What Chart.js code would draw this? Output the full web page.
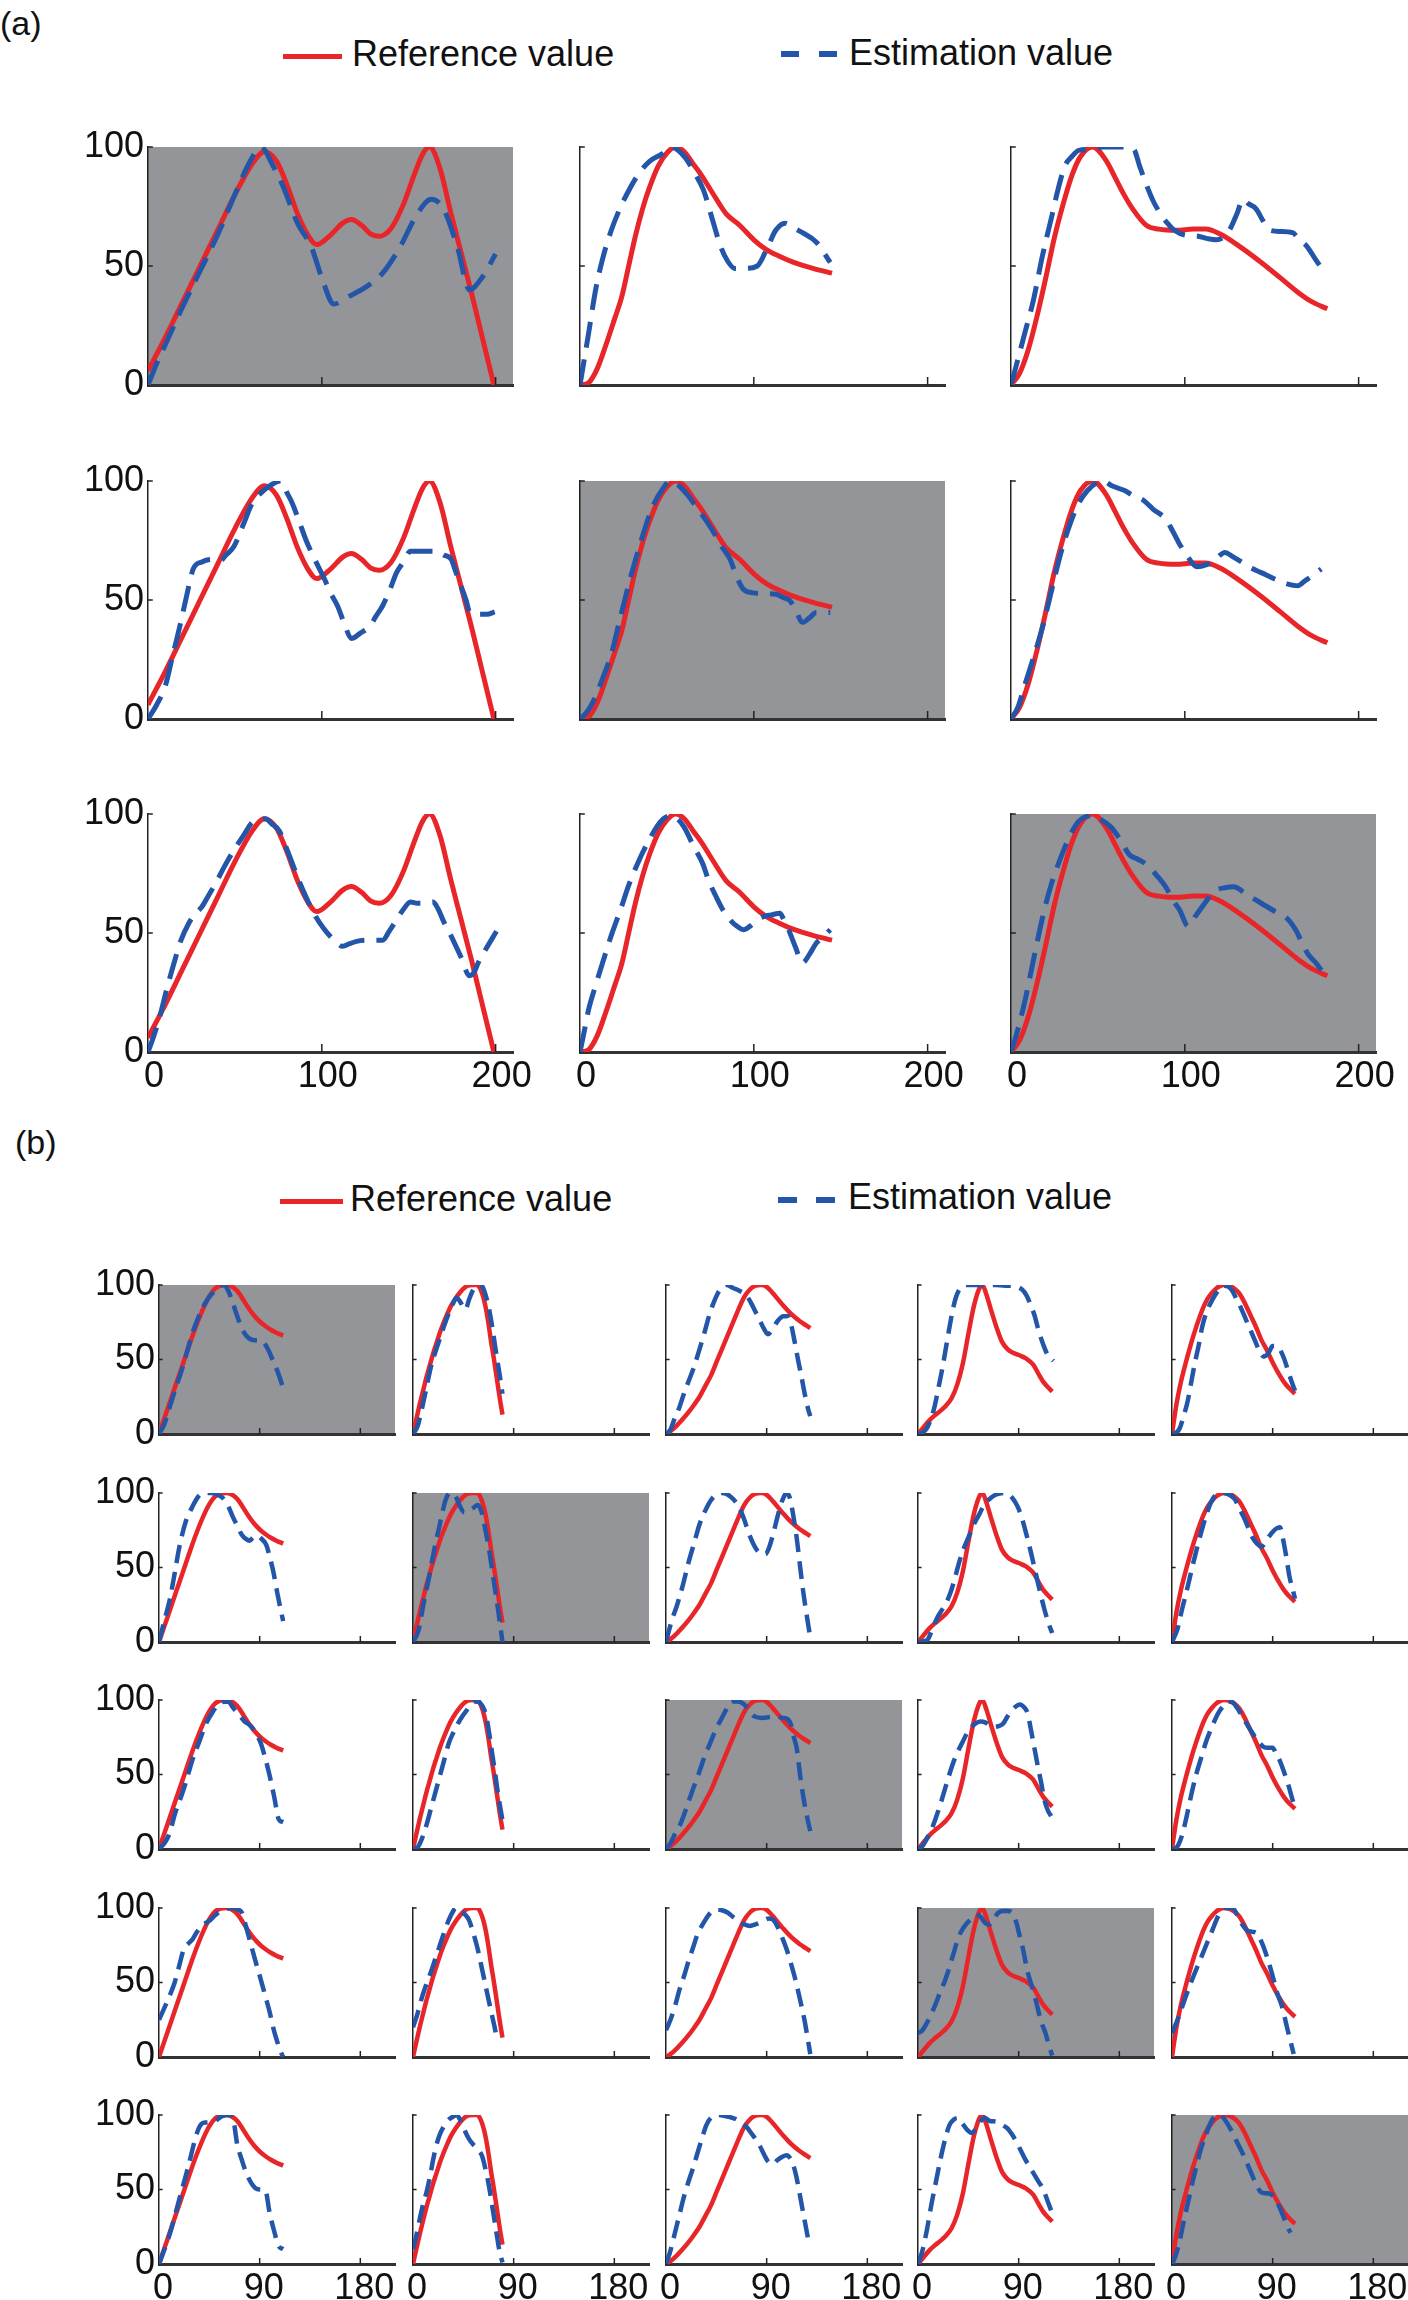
<!DOCTYPE html>
<html><head><meta charset="utf-8">
<script src="https://cdn.jsdelivr.net/npm/chart.js@4.4.0/dist/chart.umd.min.js"></script>
<style>
html,body{margin:0;padding:0;background:#fff;width:1408px;height:2300px;overflow:hidden;position:relative;font-family:"Liberation Sans",Arial,sans-serif;}
.lbl{position:absolute;font-size:34px;line-height:34px;color:#111;}
.leg{position:absolute;font-size:36px;line-height:36px;color:#111;white-space:nowrap;}
.sw{position:absolute;}
canvas{position:absolute;}
</style></head><body>
<div class="lbl" style="left:0px;top:6px;">(a)</div>
<div class="sw" style="left:283px;top:54px;width:59px;height:5px;background:#E8262A;"></div>
<div class="leg" style="left:352px;top:36px;">Reference value</div>
<div class="sw" style="left:781px;top:51px;width:18px;height:6px;background:#2356A8;"></div>
<div class="sw" style="left:819px;top:51px;width:18px;height:6px;background:#2356A8;"></div>
<div class="leg" style="left:849px;top:35px;">Estimation value</div>
<div class="lbl" style="left:15px;top:1125px;">(b)</div>
<div class="sw" style="left:280px;top:1199px;width:63px;height:5px;background:#E8262A;"></div>
<div class="leg" style="left:350px;top:1181px;">Reference value</div>
<div class="sw" style="left:778px;top:1197px;width:19px;height:6px;background:#2356A8;"></div>
<div class="sw" style="left:816px;top:1197px;width:19px;height:6px;background:#2356A8;"></div>
<div class="leg" style="left:848px;top:1179px;">Estimation value</div>
<script>
// ---------- tick labels ----------
const aXTicks = [0, 100, 200];
const bXTicks = [0, 90, 180];
const yTicks = [0, 50, 100];

// ---------- (a) reference curves (one per column) ----------
const refA1 = [[0,6],[10,20],[20,35],[30,50],[40,65],[50,80],[60,93],[67,98],[74,94],[80,84],[86,72],[92,63],[97,59],[105,63],[112,68],[117,69.5],[123,67],[128,63.5],[133,62.5],[140,66],[147,76],[153,88],[158,97],[162,100],[168,91],[174,73],[180,56],[186,39],[192,21],[199,0]];
const refA2 = [[0,0],[5,1],[10,7],[15,17],[20,28],[24,37],[28,50],[32,63],[36,74],[40,83],[45,92],[50,97.5],[55,100],[60,98],[65,93],[70,88],[76,81],[84,72],[92,67],[100,61],[107,57],[115,54],[123,51.5],[134,49],[145,47]];
const refA3 = [[0,0],[5,5],[10,15],[15,29],[20,45],[25,62],[30,76],[35,88],[40,96],[47,100],[55,94],[60,87],[65,80],[70,74],[78,67],[85,65.5],[95,65],[105,65.5],[112,65.5],[120,63.5],[130,59],[144,51.5],[155,45],[165,39],[173,35],[182,32]];

// ---------- (a) estimation curves (row, column) ----------
const estA11 = [[0,0],[5,9],[10,17],[20,33],[30,48],[40,63],[50,80],[58,93],[65,100],[72,92],[78,83],[86,68],[94,58],[100,45],[107,34],[115,37],[125,41],[135,47],[145,58],[155,72],[163,78],[170,74],[178,58],[185,40],[192,45],[200,55]];
const estA12 = [[0,0],[5,22],[9,40],[13,53],[18,65],[23.5,75],[29,83],[34,89],[40,94],[47,97],[52,100],[60,96],[66,89],[71,82],[76,70],[81,58],[85,52],[89,49],[95,49],[102,50],[108,58],[112.6,65],[118,68],[123,66],[128,64],[136,60],[144,51.5]];
const estA13 = [[0,0],[2.6,7],[8,22],[13,36],[18,54],[23.5,71],[27,82],[31,92],[35,96],[39,98.6],[47,99],[53,100],[60,100],[66,100],[70.7,99],[74,92],[78.5,83],[82,77],[86,72],[90,68],[94,65],[100,63],[107,62.6],[113,61.5],[118,61],[122,62],[125.6,65],[130,72],[133.5,78],[137,76],[141,74],[145,69],[149,65],[155,64.5],[162,64],[166,61],[170,58.5],[175,53],[180.6,47]];
const estA21 = [[0,0],[5,6],[10,14],[14,26],[18,38],[22,51],[26,63],[31,66],[36.5,67],[41.6,66.5],[45,69],[49.5,72.6],[55,82],[60,90.7],[65,95],[70,98],[76.5,100],[80,95],[83,90.7],[87,83],[91,75],[96,67],[101.6,58.7],[105,53],[109,47.6],[113,40],[117,33.8],[122,36],[127.6,39],[131,43],[135,47.6],[139,54],[143,61.5],[147,66],[151,70.5],[158,70.5],[166.7,70.5],[170,69],[174.5,67],[177,62],[180,56],[183,50],[185,45],[190,44],[195,44],[199.5,45]];
const estA22 = [[0,0],[4,3],[8,8],[13,17],[18.3,28],[23,42],[28.8,58.7],[34,72],[39,83.7],[43,91],[47,96],[52,100],[57,98],[62,94],[67,89],[72,84],[76,79.5],[81,73],[86.4,67],[90,60],[94,54.5],[99.5,53],[106,52.7],[112.6,52.4],[117,51],[120.4,50],[124,46],[128,40.6],[132,42.5],[136,44.7],[144,44.7]];
const estA23 = [[0,0],[4,5],[7.8,14],[13,26],[18.3,39],[23,53],[28.8,70],[34,82],[39,90.7],[44,96],[50,99.5],[53,100],[58,98],[65.4,96],[70,94],[76,92],[82,88],[89,84],[93,79],[96.6,74],[101,69],[107,64],[111,64.5],[115,65.6],[119,68],[123,70],[128,68],[133.5,65.6],[138,63.5],[144,61.5],[152,58.7],[158,57],[165,56],[169,58],[173,60],[178.5,63]];
const estA31 = [[0,0],[3,6],[6.8,15],[11,27],[15.6,39],[19,47],[23.4,54],[27,58],[31,61],[35,66],[39,71],[44,78],[49.5,85],[55,91],[60,96.5],[64,97.5],[67.7,98],[71,96],[75.5,93],[80,85],[86,73.6],[91,65],[96.4,57],[101,52],[107,47],[112,44.4],[116,45.5],[120,46.5],[128,47],[135,47],[139,51],[143,55.5],[147,60],[151,63],[155,62.5],[159,62.5],[164,63],[167,60],[170,55],[174.5,48.6],[180,40],[185,32],[188,34],[190,37.5],[195,44],[200.5,50.7]];
const estA32 = [[0,0],[2,7],[5,18],[9,28],[13,37.5],[18,49],[23.4,60],[28,70],[34,80.6],[39,88],[44.5,95],[48,98],[52,99.3],[56,98],[60,94.4],[65,87],[70.7,79],[74,72],[78.5,65],[82,60],[86.4,55.5],[90,53],[94,51.4],[98,53],[102,55.5],[106,57],[110,57.6],[115,58.3],[117,56],[120,51.4],[124,44],[128,37.5],[132,41],[136,45.8],[140,48.5],[144,51.4]];
const estA33 = [[0,0],[3,7],[7.8,20.8],[13,39],[18.3,57],[23,70],[28.8,82],[34,91],[39,97],[47,99.3],[52,97.5],[57.6,94.4],[63,89],[68,83],[73,81],[78.5,78.5],[84,74],[89,69.4],[93,64],[97,59.7],[102,52.8],[106,57],[110,61],[114,65],[118,68],[123,69],[128,69.4],[136,66],[144,62.5],[152,59],[159.7,55.5],[164,51],[167.5,45.8],[171,41],[175.4,37.5],[179,34],[182,32]];

// ---------- (b) reference curves (one per column) ----------
const refB1 = [[0,0],[5,11],[10,22],[15,33],[20,44],[25,55],[30,66],[35,76],[40,85],[45,92.5],[50,97.5],[55,99.7],[60,100],[65,99],[70,96],[75,90.5],[80,84.5],[85,79.5],[90,75.5],[95,72.5],[100,70],[105,68],[111,66]];
const refB2 = [[0,0],[3,10],[6,20],[9,29],[12,38],[15,46],[18,54],[21,61],[24,68],[27,74],[30,79.5],[34,86],[38,91],[42,95],[46,98.2],[50,99.7],[54,100],[57,100],[59,99],[61.5,95],[63.5,90],[65.5,83],[67.5,74],[70,61],[72,52],[74,42],[76,32],[78,22],[80,13]];
const refB3 = [[0,0],[5,2.5],[10,6],[15,10],[20,14.5],[25,19.5],[30,25],[35,32],[40,39],[45,48],[50,57],[55,66],[60,75],[65,84],[70,92],[75,97],[80,99.5],[85,100],[90,98.8],[95,95],[100,90.5],[105,86],[110,82],[115,78.5],[120,75.5],[125,73],[129,71]];
const refB4 = [[0,0],[5,4.5],[10,9],[15,12.5],[20,15.5],[25,19],[30,24],[35,33],[40,47],[45,67],[50,86],[55,98],[57.5,100],[61,94],[65,84],[70,72],[75,62],[80,57],[85,54.5],[90,53],[97,50.5],[103,46.5],[108,40],[112,35],[116,31.5],[120,28.5]];
const refB5 = [[0,0],[4,20],[8,35],[12,47],[16,58],[20,68],[24,77],[28,85],[32,91],[36,95],[40,98],[46,100],[52,99.3],[56,97.5],[60,94.5],[65,88],[70,80],[75,72],[80,63],[85,56],[90,48],[95,41],[100,35],[105,30.5],[110,27]];

// ---------- (b) estimation curves (row, column) ----------
const estB11 = [[0,0],[5,7],[10,19],[15,31],[20,42],[25,55],[30,68],[35,78],[40,86],[45,92],[50,96],[55,99.5],[58,100],[62,96],[66,88],[70,79],[74,71],[78,66],[82,63.5],[86,63],[90,63],[94,61],[98,56],[102,49],[106,42],[111,31]];
const estB12 = [[0,0],[4,5],[8,17],[12,31],[16,45],[20,55],[24,64],[28,73],[32,81],[36,88],[39,91.5],[42,89],[45,85],[47,83.6],[50,90],[54,97],[58,100],[62,99],[65,93],[68,84],[71,71],[74,56],[77,42],[80,27]];
const estB13 = [[0,0],[4,3],[7,9],[12,18],[16,27],[20,35],[25,45],[30,57],[34,67],[38,78],[42,87],[46,94],[50,98.5],[54,100],[60,98],[66,96],[72,93],[76,88],[80,82],[84,76],[88,70],[91,67],[95,70],[100,76],[105,79],[109,79],[112,73],[115,62],[118,50],[121,39],[124,27],[127,17],[129,12]];
const estB14 = [[0,0],[4,1],[8,4],[12,11],[15,19],[18,30],[22,45],[25,58],[28,71],[31,83],[34,92],[38,98],[44,100],[50,100],[60,100],[70,100],[80,99.5],[88,99],[93,97],[97,93],[101,86],[104,80],[108,69],[112,60],[116,53],[121,49]];
const estB15 = [[0,0],[4,1],[7,4],[10,11],[14,22],[17,34],[20,46],[24,60],[27,72],[31,82],[36,90],[41,96],[46,99.5],[50,99],[54,96],[58,90],[62,84],[66,77],[70,70],[74,63],[78,56],[82,52],[86,54],[90,59],[94,59],[97,56],[100,51],[104,42],[107,35],[110,29]];
const estB21 = [[0,0],[5,15],[9.5,28],[14,46],[18,63],[24,81],[30,91],[35,97.5],[40,100],[46,100],[52,99],[58,96],[62,91],[66,84],[70,78],[74,72],[78,69],[81,68],[84,70],[87,71.5],[92,69],[96,65],[99,57],[102,48],[106,32],[111,14]];
const estB22 = [[0,0],[5,8],[9.5,26],[14,42],[18.5,60],[24,79],[29,95],[33,100],[38,98],[42,91],[46,87],[50,88],[54,90],[58,92],[61,88],[64,78],[68,62],[72,42],[76,22],[80,0]];
const estB23 = [[0,0],[5,14],[10,25],[15,38],[20,53],[25,66],[30,79],[35,88],[40,95],[45,99],[50,100],[55,99],[60,96],[65,91],[70,82],[74,73],[78,66],[82,61],[86,59],[89,59],[92,63],[96,73],[100,85],[104,95],[108,100],[111,96],[114,84],[117,69],[120,50],[123,32],[126,17],[129,3]];
const estB24 = [[0,0],[5,0.5],[9,2],[13,9],[17,16],[21,21],[25,26],[29,33],[33,43],[37,54],[41,63],[45,70],[50,79],[55,86],[59,92],[64,96],[70,99],[78,100],[84,97],[89,91],[93,83],[97,72],[101,60],[105,47],[109,34],[113,22],[117,12],[120,6]];
const estB25 = [[0,0],[5,9],[9,22],[14,37],[18,50],[23,65],[27,76],[31,86],[35,94],[39,98.5],[46,100],[52,98.5],[56,96],[60,90],[64,84],[68,77],[72,70],[76,66],[80,64],[83,66],[86,70],[89,73],[93,76],[96.5,77],[99,70],[102,58],[105,44],[108,35],[110,29]];
const estB31 = [[0,0],[5,4],[9.7,11],[14,23],[17.8,31],[22,40],[26,50],[30,60],[36,72],[42,84],[48,92],[54,97.8],[62,99],[66,95],[70.6,91],[76,86],[82.7,82],[87,77],[91,71],[95,61],[99,49],[103,35],[107,20],[111,18]];
const estB32 = [[0,0],[4,1],[8,7],[12,16],[16,27],[20,38],[24,49],[28,60],[32,71],[36,78],[40,84],[44,89],[48,93],[52,97],[56,99],[60,98],[64,93],[67,83],[70,68],[73,53],[76,37],[78,28],[81,15]];
const estB33 = [[0,0],[4,4],[8,10],[13,17],[18,27],[24,40],[29,50],[34,61],[40,72],[45,81],[50,88],[55,95],[59,99],[64,99],[70,97],[75,92],[79,89],[86,88],[92,88.5],[98,89],[104,88],[109,87],[112,83],[114,76],[117,67],[120,49],[123,34],[126,22],[129,12]];
const estB34 = [[0,0],[4,2],[8,7],[12,13],[16,21],[20,30],[24,40],[28,50],[32,59],[36,66],[40,72],[44,78],[48,82],[52,84.5],[56,85.5],[60,85],[64,83],[68,82],[72,82.5],[76,84],[80,89],[84,93],[88,96],[91,97],[95,95],[98,91],[101,80],[104,68],[107,56],[110,45],[113,33],[116,26],[119,22]];
const estB35 = [[0,0],[4,1],[7,5],[10,12],[14,25],[18,39],[22,51],[26,61],[30,71],[34,79],[38,86],[42,92],[46,96],[50,99],[54,98.5],[58,95],[62,90],[66,85],[70,80],[74,75.5],[78,71.5],[82,68.5],[86,68],[90,68],[93,64],[96,60],[100,52],[104,43],[107,35],[110,27]];
const estB41 = [[0,25],[3,30],[6,35],[10,42],[14,50],[18,61],[22,72],[26,76],[30,79],[34,84],[38,87.5],[42,90],[46,92],[50,95],[54,97.5],[60,99.5],[66,100],[70,99],[74,97],[78,87],[82,76],[86,65],[91,52],[95,41],[99,30],[102,20],[105,12],[108,5],[111,0]];
const estB42 = [[0,20],[4,29],[8,40],[12,49],[16,57],[20,66],[24,75],[28,84],[32,92],[36,98],[38,100],[42,98],[46,96],[50,92],[54,83],[58,72],[62,58],[66,44],[70,30],[73,20],[75,12]];
const estB43 = [[0,18],[4,25],[8,34],[12,45],[16,54],[20,64],[24,73],[28,82],[32,88],[36,93],[40,97],[45,99],[50,98.5],[55,97],[60,94],[65,91],[70,89],[75,88],[80,89],[86,91],[92,93],[96,92],[100,87],[104,80],[108,72],[112,62],[116,51],[120,38],[124,24],[129,2]];
const estB44 = [[0,16],[4,18],[8,23],[12,29],[16,36],[20,44],[24,51],[28,60],[32,70],[36,80],[40,86],[44,90],[48,93],[52,95.5],[56,94],[60,90],[64,89],[68,93],[72,97],[76,98],[80,98],[85,96],[88,90],[91,81],[94,72],[98,57],[102,47],[106,36],[110,24],[114,16],[117,8],[120,1]];
const estB45 = [[0,16],[6,27],[12,40],[18,52],[24,63],[30,74],[36,85],[42,95.5],[48,100],[54,100],[61,91],[67,85],[72,84],[76,83],[80.5,76.4],[85,67],[89.4,56],[94,43],[98.3,34],[102.8,20],[105.8,11],[108.8,2]];
const estB51 = [[0,0],[5,10],[10,21],[18,43],[26,65],[34,88],[38,94],[42,95],[50,96],[56,99],[62,100],[66,98],[70,80],[74,70],[78,61],[82,55],[86,51],[90,50],[95,49.5],[99,34],[103,22],[107,12],[111,10]];
const estB52 = [[0,10],[3,19],[6,30],[9,40],[12,48],[15,58],[18,70],[21,80],[24,87],[28,93],[32,97],[36,99],[39,100],[42,97],[46,90],[50,84],[54,80],[58,77],[62,72],[65,63],[68,52],[71,38],[74,24],[77,10],[80,1]];
const estB53 = [[0,0],[4,9],[8,21],[12,33],[16,45],[20,55],[24,64],[28,74],[32,84],[36,93],[40,98],[47,100],[55,99],[63,97],[68,94],[72,92],[76,88],[80,84],[84,79],[88,73],[91,69],[95,67],[100,70],[104,72],[108,73],[111,71],[114,66],[117,57],[120,45],[123,33],[127,17]];
const estB54 = [[0,0],[4,9],[8,23],[12,40],[16,55],[20,70],[24,83],[28,93],[32,97],[36,98],[40,94],[44,90],[48,88],[52,91],[56,96],[60,98],[64,96],[70,95.5],[76,93],[80,91],[84,87],[88,82],[92,76],[96,70],[100,65],[104,60],[108,55],[112,50],[116,42],[119,36]];
const estB55 = [[0,0],[3,5],[7,16],[10,27],[13,37],[16,47],[19,57],[22,66],[25,75],[28,82],[31,88],[34,94],[37,98],[43,100],[48,96],[52,91],[56,85],[60,79],[64,73],[68,66],[72,59],[76,52],[80,48],[84,47.5],[88,47],[91,45],[95,40],[99,33],[102,27],[106,21]];

const refA = [refA1, refA2, refA3];
const estA = [[estA11, estA12, estA13],[estA21, estA22, estA23],[estA31, estA32, estA33]];
const refB = [refB1, refB2, refB3, refB4, refB5];
const estB = [
  [estB11, estB12, estB13, estB14, estB15],
  [estB21, estB22, estB23, estB24, estB25],
  [estB31, estB32, estB33, estB34, estB35],
  [estB41, estB42, estB43, estB44, estB45],
  [estB51, estB52, estB53, estB54, estB55]
];

// ---------- styling / layout ----------
const RED = '#E8262A', BLUE = '#2356A8', GREY = '#939598';
const FONT = '"Liberation Sans", Arial, sans-serif';
Chart.defaults.font.family = FONT;

const panelDeco = {
  id: 'panelDeco',
  beforeDraw(chart, args, opts) {
    if (!opts.grey) return;
    const a = chart.chartArea, c = chart.ctx;
    c.save(); c.fillStyle = GREY;
    c.fillRect(a.left, a.top, a.right - a.left, a.bottom - a.top);
    c.restore();
  },
  afterDraw(chart, args, opts) {
    const c = chart.ctx, xs = chart.scales.x, ys = chart.scales.y, a = chart.chartArea;
    c.save(); c.strokeStyle = '#222'; c.lineWidth = 1.5;
    xs.ticks.forEach(t => {
      if (t.value === 0) return;
      const px = xs.getPixelForValue(t.value);
      c.beginPath(); c.moveTo(px, a.bottom); c.lineTo(px, a.bottom - opts.tl); c.stroke();
    });
    ys.ticks.forEach(t => {
      if (t.value === 0) return;
      const py = ys.getPixelForValue(t.value);
      c.beginPath(); c.moveTo(a.left, py); c.lineTo(a.left + opts.tl * 0.6, py); c.stroke();
    });
    c.restore();
  }
};

function panel(left, top, w, h, o) {
  const L = 110, T = 26, R = 36, B = 52;
  const cv = document.createElement('canvas');
  cv.width = w + L + R; cv.height = h + T + B;
  cv.style.left = (left - L) + 'px'; cv.style.top = (top - T) + 'px';
  cv.style.width = cv.width + 'px'; cv.style.height = cv.height + 'px';
  document.body.appendChild(cv);
  const pts = arr => arr.map(p => ({x: p[0], y: p[1]}));
  new Chart(cv, {
    type: 'line',
    data: { datasets: [
      { label: 'Estimation value', data: pts(o.est), borderColor: BLUE, borderWidth: o.lw, borderDash: o.dash,
        pointRadius: 0, cubicInterpolationMode: 'monotone', fill: false },
      { label: 'Reference value', data: pts(o.ref), borderColor: RED, borderWidth: o.lw,
        pointRadius: 0, cubicInterpolationMode: 'monotone', fill: false }
    ]},
    options: {
      responsive: false, animation: false, events: [],
      layout: { padding: { top: T, right: R, left: 0, bottom: 0 } },
      plugins: { legend: { display: false }, tooltip: { enabled: false },
                 panelDeco: { grey: o.grey, tl: o.tl } },
      scales: {
        x: { type: 'linear', min: 0, max: o.xmax,
             afterBuildTicks: s => { s.ticks = o.xticks.map(v => ({value: v})); },
             afterFit: s => { s.height = B; },
             grid: { display: false, drawTicks: false },
             border: { display: true, color: '#333', width: 3 },
             ticks: { display: o.showX, padding: 3, labelOffset: o.lo, color: '#111', font: { size: 36, family: FONT },
                      autoSkip: false, maxRotation: 0 } },
        y: { type: 'linear', min: 0, max: 100,
             afterBuildTicks: s => { s.ticks = yTicks.map(v => ({value: v})); },
             afterFit: s => { s.width = L; },
             grid: { display: false, drawTicks: false },
             border: { display: true, color: '#222', width: 1.5 },
             ticks: { display: o.showY, padding: 4, color: '#111', font: { size: 36, family: FONT } } }
      }
    },
    plugins: [panelDeco]
  });
}

const aLefts = [148, 580, 1011], aTops = [147, 481, 814];
for (let r = 0; r < 3; r++) for (let c = 0; c < 3; c++) {
  panel(aLefts[c], aTops[r], 365, 238, {
    ref: refA[c], est: estA[r][c], grey: r === c, showY: c === 0, showX: r === 2,
    xmax: 210, xticks: aXTicks, lw: 5, dash: [26, 12], tl: 8, lo: 6 });
}
const bLefts = [159, 413, 666, 918, 1172], bTops = [1285, 1493, 1700, 1908, 2115];
for (let r = 0; r < 5; r++) for (let c = 0; c < 5; c++) {
  panel(bLefts[c], bTops[r], 236, 149, {
    ref: refB[c], est: estB[r][c], grey: r === c, showY: c === 0, showX: r === 4,
    xmax: 211, xticks: bXTicks, lw: 4.5, dash: [18, 9], tl: 6, lo: 4 });
}
</script>
</body></html>
